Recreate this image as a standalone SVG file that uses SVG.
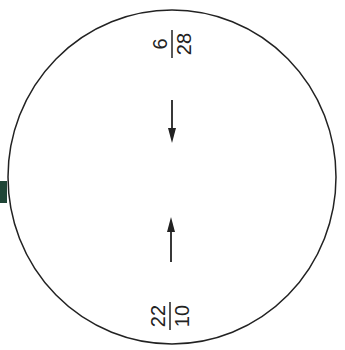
<svg xmlns="http://www.w3.org/2000/svg" width="345" height="350" viewBox="0 0 345 350">
<style>
.t{font-family:"Liberation Sans",Arial,sans-serif;font-size:20px;fill:#222;text-anchor:middle}
.bar{stroke:#222;stroke-width:1.5}
.arr{stroke:#222;stroke-width:1.8;fill:none}
</style>
<defs>
<marker id="ah" viewBox="0 0 10 10" refX="9" refY="5" markerWidth="5" markerHeight="8" orient="auto" markerUnits="userSpaceOnUse">
<path d="M0,0 L10,5 L0,10 z" fill="#222"/>
</marker>
</defs>
<rect width="345" height="350" fill="#fff"/>
<rect x="0" y="181" width="7" height="22" fill="#1f4536"/>
<g id="circle">
<ellipse cx="172" cy="177" rx="164" ry="167" fill="none" stroke="#222" stroke-width="1.5"/>
</g>
<g id="frac-top" transform="translate(172,44) rotate(-90)">
<line class="bar" x1="-14" y1="0" x2="14" y2="0"/>
<text class="t" x="0" y="-5">6</text>
<text class="t" x="0" y="19">28</text>
</g>
<g id="frac-bottom" transform="translate(170,316) rotate(-90)">
<line class="bar" x1="-14" y1="0" x2="14" y2="0"/>
<text class="t" x="0" y="-5">22</text>
<text class="t" x="0" y="19">10</text>
</g>
<g id="connectors">
<path class="arr" d="M172,100 L172,128"/>
<path d="M168,128 L176,128 L172,143 z" fill="#222"/>
<path class="arr" d="M171,262 L171,232"/>
<path d="M167,232 L175,232 L171,217 z" fill="#222"/>
</g>
</svg>
